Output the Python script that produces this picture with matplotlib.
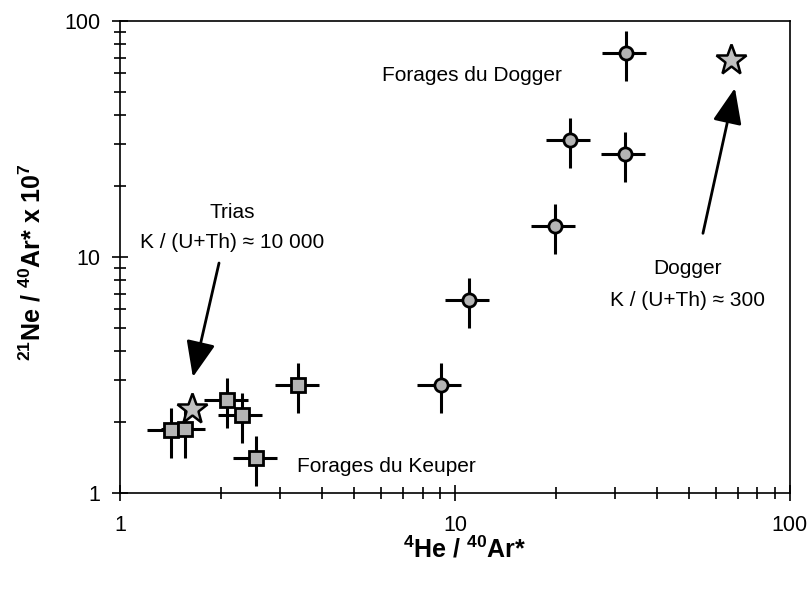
import matplotlib
matplotlib.use("Agg")
import matplotlib.pyplot as plt
import numpy as np

plt.rcParams['font.family'] = ['Liberation Sans', 'DejaVu Sans']
plt.rcParams['mathtext.default'] = 'regular'

# Forages du Dogger (circles)
dogger_he = [32.4, 22.0, 32.2, 19.9, 11.0, 9.08]
dogger_ne = [73.2, 31.3, 27.3, 13.5, 6.6, 2.87]
# Forages du Keuper (squares)
keuper_he = [1.42, 1.56, 2.09, 2.31, 2.55, 3.41]
keuper_ne = [1.85, 1.86, 2.48, 2.15, 1.41, 2.87]
# production ratios (stars)
star_he = [1.64, 66.5]
star_ne = [2.28, 68.4]
# relative uncertainties
he_err = 0.15
ne_err = 0.24

fig = plt.figure(figsize=(8.11, 5.90), dpi=100)
ax = fig.add_axes([0.148, 0.1644, 0.826, 0.80])

def plot_group(x, y, marker, ms):
    x = np.array(x)
    y = np.array(y)
    ax.errorbar(x, y, xerr=he_err * x, yerr=ne_err * y, fmt='none',
                ecolor='black', elinewidth=2.2, capsize=0, zorder=2)
    ax.plot(x, y, linestyle='none', marker=marker, ms=ms, mfc='#b4b4b4',
            mec='black', mew=2.0, zorder=3)

plot_group(dogger_he, dogger_ne, 'o', 9.5)
plot_group(keuper_he, keuper_ne, 's', 10.5)
ax.plot(star_he, star_ne, linestyle='none', marker='*', ms=23,
        mfc='#c0c0c0', mec='black', mew=1.8, zorder=4)

ax.set_xscale('log')
ax.set_yscale('log')
ax.set_xlim(1, 100)
ax.set_ylim(1, 100)
ax.set_xticks([1, 10, 100])
ax.set_xticklabels(['1', '10', '100'])
ax.set_yticks([1, 10, 100])
ax.set_yticklabels(['1', '10', '100'])
ax.tick_params(which='both', direction='inout', width=1.2, labelsize=15.5)
ax.tick_params(which='major', length=12)
ax.tick_params(which='minor', length=9)
ax.tick_params(axis='x', pad=10)
ax.tick_params(axis='y', pad=8)
for s in ax.spines.values():
    s.set_linewidth(1.2)

ax.set_xlabel(r'$^{4}$He / $^{40}$Ar*', fontsize=18, fontweight='bold')
ax.set_ylabel(r'$^{21}$Ne / $^{40}$Ar* x 10$^{7}$', fontsize=18, fontweight='bold')
ax.xaxis.set_label_coords(0.515, -0.092)
ax.yaxis.set_label_coords(-0.112, 0.49)

# annotations
fs = 15
ax.text(11.2, 59.0, 'Forages du Dogger', fontsize=fs, ha='center', va='center')
ax.text(3.38, 1.29, 'Forages du Keuper', fontsize=fs, ha='left', va='center')
ax.text(2.16, 15.5, 'Trias', fontsize=fs, ha='center', va='center')
ax.text(2.16, 11.5, 'K / (U+Th) \u2248 10 000', fontsize=fs, ha='center', va='center')
ax.text(49.3, 8.98, 'Dogger', fontsize=fs, ha='center', va='center')
ax.text(49.3, 6.57, 'K / (U+Th) \u2248 300', fontsize=fs, ha='center', va='center')

arrow = dict(arrowstyle='-|>,head_length=1.1,head_width=0.45', color='black',
             lw=2, shrinkA=0, shrinkB=0, mutation_scale=20)
ax.annotate('', xy=(1.65, 3.10), xytext=(1.975, 9.43), arrowprops=arrow)
ax.annotate('', xy=(68.5, 52.0), xytext=(55.0, 12.6), arrowprops=arrow)

fig.savefig('out.png', dpi=100)
